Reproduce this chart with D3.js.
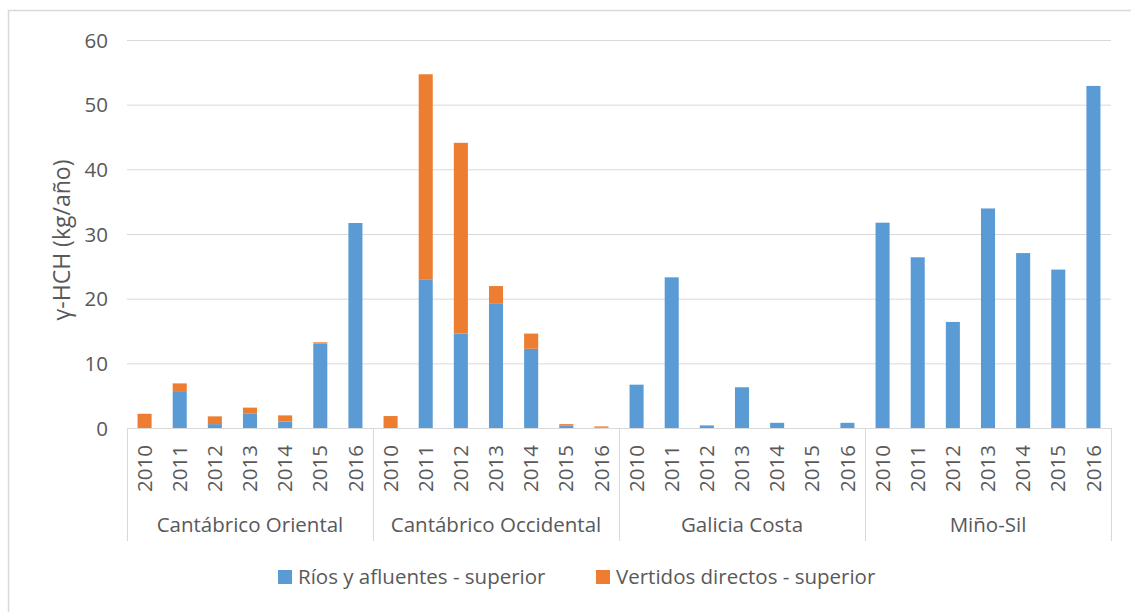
<!DOCTYPE html>
<html>
<head>
<meta charset="utf-8">
<script src="https://cdn.jsdelivr.net/npm/d3@7"></script>
<style>
  html, body { margin: 0; padding: 0; background: #fff; overflow: hidden; }
  svg text { font-family: "Open Sans", "Liberation Sans", sans-serif; fill: #595959; }
</style>
</head>
<body>
<svg id="chart" width="1131" height="612"></svg>
<script>
// Demarcations and years on the two-level category axis
const groups = ["Cantábrico Oriental", "Cantábrico Occidental", "Galicia Costa", "Miño-Sil"];
const years = ["2010", "2011", "2012", "2013", "2014", "2015", "2016"];

// γ-HCH load (kg/año), one value per year inside each demarcation
const riosValues = [
  0, 5.7, 0.6, 2.2, 1.0, 13.05, 31.7,
  0, 23.0, 14.6, 19.2, 12.25, 0.4, 0.05,
  6.7, 23.3, 0.4, 6.3, 0.8, 0, 0.8,
  31.75, 26.4, 16.4, 33.95, 27.05, 24.5, 52.9
];
const vertidosValues = [
  2.2, 1.2, 1.2, 0.95, 0.95, 0.2, 0,
  1.85, 31.7, 29.5, 2.75, 2.35, 0.2, 0.2,
  0, 0, 0, 0, 0, 0, 0,
  0, 0, 0, 0, 0, 0, 0
];
const seriesNames = ["Ríos y afluentes - superior", "Vertidos directos - superior"];
const seriesColors = ["#5b9bd5", "#ed7d31"];
const yTicks = [0, 10, 20, 30, 40, 50, 60];

const svg = d3.select("#chart");
const W = 1131, H = 612;
const plot = { left: 127, right: 1111, top: 40, bottom: 428 };
const labelSize = 20.5;

// chart frame (runs past the right and bottom edges of the canvas)
svg.append("rect")
  .attr("x", 8.5).attr("y", 10.5)
  .attr("width", W).attr("height", H)
  .attr("fill", "#fff").attr("stroke", "#d9d9d9").attr("stroke-width", 1.5);

// flat rows: one per (demarcation, year)
const rows = [];
groups.forEach((g, gi) => years.forEach((y, yi) => {
  const i = gi * years.length + yi;
  rows.push({ key: g + "|" + y, group: g, year: y, rios: riosValues[i], vertidos: vertidosValues[i] });
}));

const x = d3.scaleBand()
  .domain(rows.map(r => r.key))
  .range([plot.left, plot.right])
  .paddingInner(0.6)
  .paddingOuter(0.3);

const y = d3.scaleLinear().domain([0, 60]).range([plot.bottom, plot.top]);

// horizontal gridlines and value labels
const yAxis = d3.axisLeft(y).tickValues(yTicks).tickSize(-(plot.right - plot.left)).tickPadding(19);
const gy = svg.append("g").attr("transform", `translate(${plot.left},0)`).call(yAxis);
gy.select(".domain").remove();
gy.selectAll(".tick line").attr("stroke", "#d9d9d9").attr("stroke-width", 1);
gy.selectAll(".tick text").attr("font-size", labelSize).style("fill", "#595959").attr("dy", "0.35em");

// stacked bars
const stack = d3.stack().keys(["rios", "vertidos"]);
const layers = stack(rows);
svg.append("g").selectAll("g")
  .data(layers)
  .join("g")
  .attr("fill", (d, i) => seriesColors[i])
  .selectAll("rect")
  .data(d => d)
  .join("rect")
  .attr("x", d => x(d.data.key))
  .attr("width", x.bandwidth())
  .attr("y", d => y(d[1]))
  .attr("height", d => Math.max(0, y(d[0]) - y(d[1])));

// category axis baseline
svg.append("line")
  .attr("x1", plot.left).attr("x2", plot.right)
  .attr("y1", plot.bottom + 0.5).attr("y2", plot.bottom + 0.5)
  .attr("stroke", "#d9d9d9");

// year labels, rotated
const gx = svg.append("g").attr("transform", `translate(0,${plot.bottom})`)
  .call(d3.axisBottom(x).tickSize(0).tickFormat(k => k.split("|")[1]));
gx.select(".domain").remove();
gx.selectAll(".tick text")
  .attr("font-size", labelSize)
  .style("fill", "#595959")
  .attr("transform", "rotate(-90)")
  .attr("text-anchor", "end")
  .attr("x", -17)
  .attr("y", 0)
  .attr("dy", "0.35em");

// demarcation separators and names
const step = x.step();
const groupEdges = d3.range(groups.length + 1).map(i => plot.left + i * years.length * step);
svg.append("g").selectAll("line")
  .data(groupEdges)
  .join("line")
  .attr("x1", d => Math.round(d) + 0.5).attr("x2", d => Math.round(d) + 0.5)
  .attr("y1", plot.bottom).attr("y2", 541)
  .attr("stroke", "#d9d9d9");

svg.append("g").selectAll("text")
  .data(groups)
  .join("text")
  .attr("x", (g, i) => (groupEdges[i] + groupEdges[i + 1]) / 2)
  .attr("y", 525)
  .attr("dy", "0.35em")
  .attr("text-anchor", "middle")
  .attr("font-size", labelSize)
  .text(g => g);

// y-axis title
svg.append("text")
  .attr("transform", `translate(62,${(plot.top + plot.bottom) / 2 + 6}) rotate(-90)`)
  .attr("text-anchor", "middle")
  .attr("dy", "0.35em")
  .attr("font-size", 23)
  .text("γ-HCH (kg/año)");

// legend
const legendItems = [
  { name: seriesNames[0], color: seriesColors[0], x: 278 },
  { name: seriesNames[1], color: seriesColors[1], x: 596 }
];
const lg = svg.append("g").selectAll("g").data(legendItems).join("g")
  .attr("transform", d => `translate(${d.x},577)`);
lg.append("rect").attr("x", 0).attr("y", -7).attr("width", 14).attr("height", 14).attr("fill", d => d.color);
lg.append("text").attr("x", 20).attr("y", 0).attr("dy", "0.35em").attr("font-size", labelSize).text(d => d.name);
</script>
</body>
</html>
